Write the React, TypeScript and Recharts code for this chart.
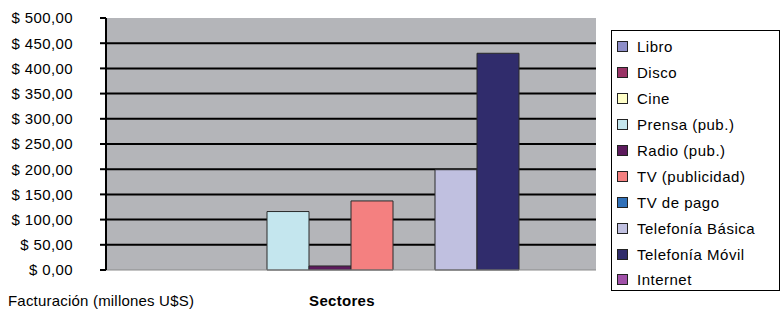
import React from 'react';
import { BarChart, Bar, XAxis, YAxis, CartesianGrid, Label } from 'recharts';

const categories = ['Sectores'];
const seriesNames = ['Libro', 'Disco', 'Cine', 'Prensa (pub.)', 'Radio (pub.)', 'TV (publicidad)', 'TV de pago', 'Telefonía Básica', 'Telefonía Móvil', 'Internet'];
const seriesValues = [0, 0, 0, 116, 8, 137, 0, 199, 430, 0];
const seriesColors = ['#8e8ec8', '#993366', '#ffffc8', '#c4e6ee', '#5c1a5c', '#f48080', '#3070b8', '#c0c0e0', '#302c6c', '#a050a8'];
const yTicks = [0, 50, 100, 150, 200, 250, 300, 350, 400, 450, 500];
const gridValues = [50, 100, 150, 200, 250, 300, 350, 400, 450];

const data = categories.map((c) => {
  const row: Record<string, any> = { name: c };
  seriesNames.forEach((s, i) => { row[s] = seriesValues[i]; });
  return row;
});

const FONT = '"Liberation Sans", Arial, sans-serif';

const fmt = (v: number) => `$ ${v.toFixed(2).replace('.', ',')}`;

const LegendBox = () => (
  <div style={{ position: 'absolute', left: 611, top: 30, border: '1px solid #000', background: '#fff', boxSizing: 'border-box', width: 169, height: 261, padding: '3px 0 0 5px', fontFamily: FONT, fontSize: 15, letterSpacing: 0.5, color: '#000' }}>
    {seriesNames.map((s, i) => (
      <div key={s} style={{ display: 'flex', alignItems: 'center', height: 25.9 }}>
        <span style={{ display: 'inline-block', width: 9, height: 9, background: seriesColors[i], border: '1px solid #222', marginRight: 9 }} />
        <span>{s}</span>
      </div>
    ))}
  </div>
);

export default function App() {
  return (
    <div style={{ position: 'absolute', left: 0, top: 0, width: 784, height: 309, background: '#fff' }}>
      <BarChart width={784} height={309} data={data} margin={{ top: 18, right: 188, bottom: 0, left: 0 }} barCategoryGap={35} barGap={0}>
        <CartesianGrid horizontal vertical={false} horizontalValues={gridValues} stroke="#000" strokeWidth={2} fill="#b4b5b9" />
        <XAxis dataKey="name" tick={false} tickLine={false} axisLine={{ stroke: '#8a8a8a', strokeWidth: 1 }} height={39}>
          <Label value="Sectores" position="insideBottom" offset={3} dx={-9} style={{ fontFamily: FONT, fontSize: 15, fontWeight: 'bold', fill: '#000', letterSpacing: 0.3 }} />
          <Label value="Facturación (millones U$S)" position="insideBottomLeft" offset={3} dx={-101} style={{ fontFamily: FONT, fontSize: 15, fill: '#000', letterSpacing: 0.2 }} />
        </XAxis>
        <YAxis domain={[0, 500]} ticks={yTicks} interval={0} tickFormatter={fmt} width={106} tickSize={6} tickMargin={27}
          axisLine={{ stroke: '#000', strokeWidth: 2 }} tickLine={{ stroke: '#000', strokeWidth: 2 }}
          tick={{ fontFamily: FONT, fontSize: 15, fill: '#000', letterSpacing: 0.4 }} />
        {seriesNames.map((s, i) => (
          <Bar key={s} dataKey={s} name={s} fill={seriesColors[i]} stroke="#2a2a2a" strokeWidth={1} isAnimationActive={false} />
        ))}
      </BarChart>
      <LegendBox />
    </div>
  );
}
